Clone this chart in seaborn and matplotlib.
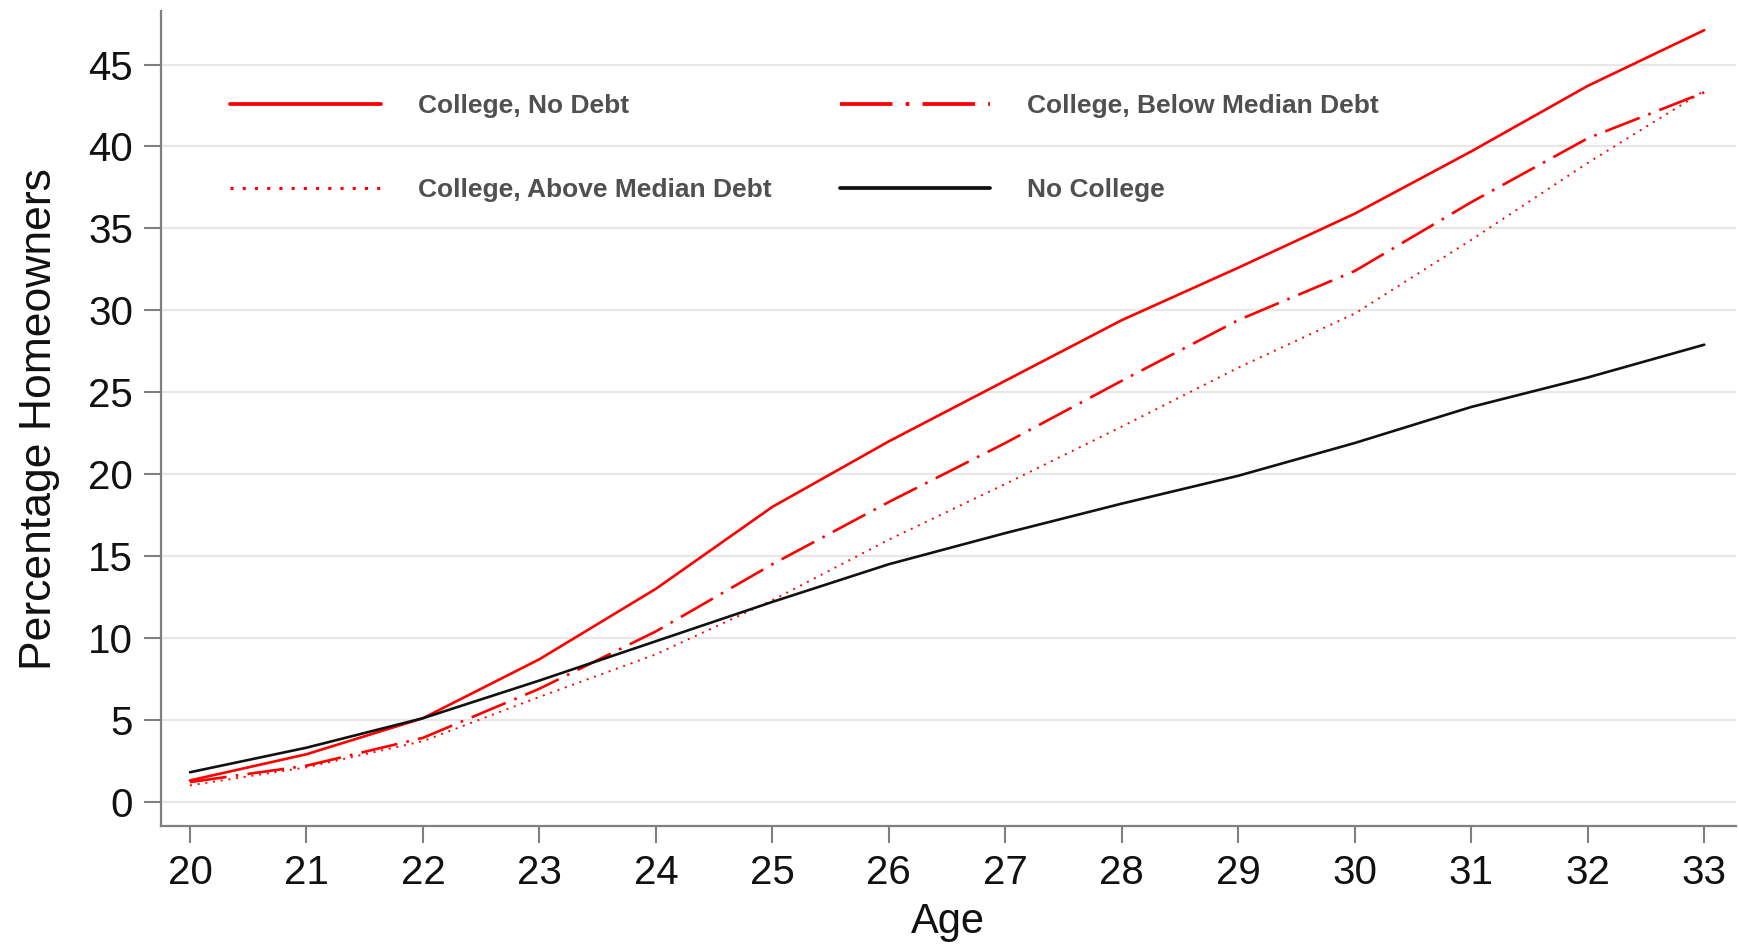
import matplotlib
matplotlib.use("Agg")
import matplotlib.pyplot as plt
import seaborn as sns
import pandas as pd

# Values
ages = list(range(20, 34))
college_no_debt = [1.3, 2.9, 5.1, 8.7, 13.0, 18.0, 22.0, 25.7, 29.4, 32.6, 35.9, 39.7, 43.7, 47.1]
college_below_median = [1.2, 2.2, 3.9, 6.9, 10.4, 14.5, 18.3, 21.9, 25.7, 29.4, 32.4, 36.6, 40.5, 43.3]
college_above_median = [1.0, 2.1, 3.7, 6.4, 9.0, 12.3, 16.0, 19.4, 22.9, 26.5, 29.8, 34.3, 39.0, 43.4]
no_college = [1.8, 3.3, 5.1, 7.4, 9.8, 12.2, 14.5, 16.4, 18.2, 19.9, 21.9, 24.1, 25.9, 27.9]

series_names = ["College, No Debt", "College, Above Median Debt",
                "College, Below Median Debt", "No College"]
series_values = [college_no_debt, college_above_median, college_below_median, no_college]
y_ticks = [0, 5, 10, 15, 20, 25, 30, 35, 40, 45]

sns.set_style("white")
plt.rcParams['font.family'] = ['Liberation Sans', 'DejaVu Sans']

df = pd.concat([pd.DataFrame({"Age": ages, "Pct": v, "Group": n})
                for n, v in zip(series_names, series_values)])

# line styles
styles = {
    "College, No Debt": dict(color="#ff0000", lw=1.9, dashes=()),
    "College, Above Median Debt": dict(color="#ff0000", lw=1.4, dashes=(1, 3)),
    "College, Below Median Debt": dict(color="#ff0000", lw=1.9, dashes=(14, 3.5, 1, 3.5)),
    "No College": dict(color="#111111", lw=1.9, dashes=()),
}

fig = plt.figure(figsize=(17.39, 9.44), dpi=100)
ax = fig.add_axes([0.0925, 0.125, 0.9056, 0.863])

ax.set_axisbelow(True)
for t in y_ticks:
    ax.axhline(t, color="#e8e8e8", lw=1.6, zorder=0)

for name in series_names:
    st = styles[name]
    sub = df[df["Group"] == name]
    sns.lineplot(data=sub, x="Age", y="Pct", ax=ax, color=st["color"],
                 linewidth=st["lw"], label=name)
    line = ax.get_lines()[-1]
    if st["dashes"]:
        line.set_dashes(st["dashes"])

ax.set_xlim(19.75, 33.27)
ax.set_ylim(-1.48, 48.25)
ax.set_xticks(ages)
ax.set_yticks(y_ticks)
ax.tick_params(axis="both", labelsize=29, colors="#7f7f7f", labelcolor="#111111",
               length=12, width=1.5, direction="out", pad=8)
ax.tick_params(left=True, bottom=True)

for side in ["top", "right"]:
    ax.spines[side].set_visible(False)
for side in ["left", "bottom"]:
    ax.spines[side].set_color("#7f7f7f")
    ax.spines[side].set_linewidth(1.6)

ax.set_xlabel("Age", fontsize=30, labelpad=7, color="#111111")
ax.set_ylabel("Percentage Homeowners", fontsize=32, labelpad=20, color="#111111")

leg = ax.legend(loc="upper left", bbox_to_anchor=(0.044, 0.898), ncol=2,
                frameon=False, fontsize=19, handlelength=5.7, handletextpad=1.4,
                columnspacing=2.6, labelspacing=2.25, borderaxespad=0, borderpad=0)
for txt in leg.get_texts():
    txt.set_color("#505050")
    txt.set_fontweight("bold")
for h in leg.get_lines():
    h.set_linewidth(h.get_linewidth() + 0.8)

plt.savefig("out.png", dpi=100)
